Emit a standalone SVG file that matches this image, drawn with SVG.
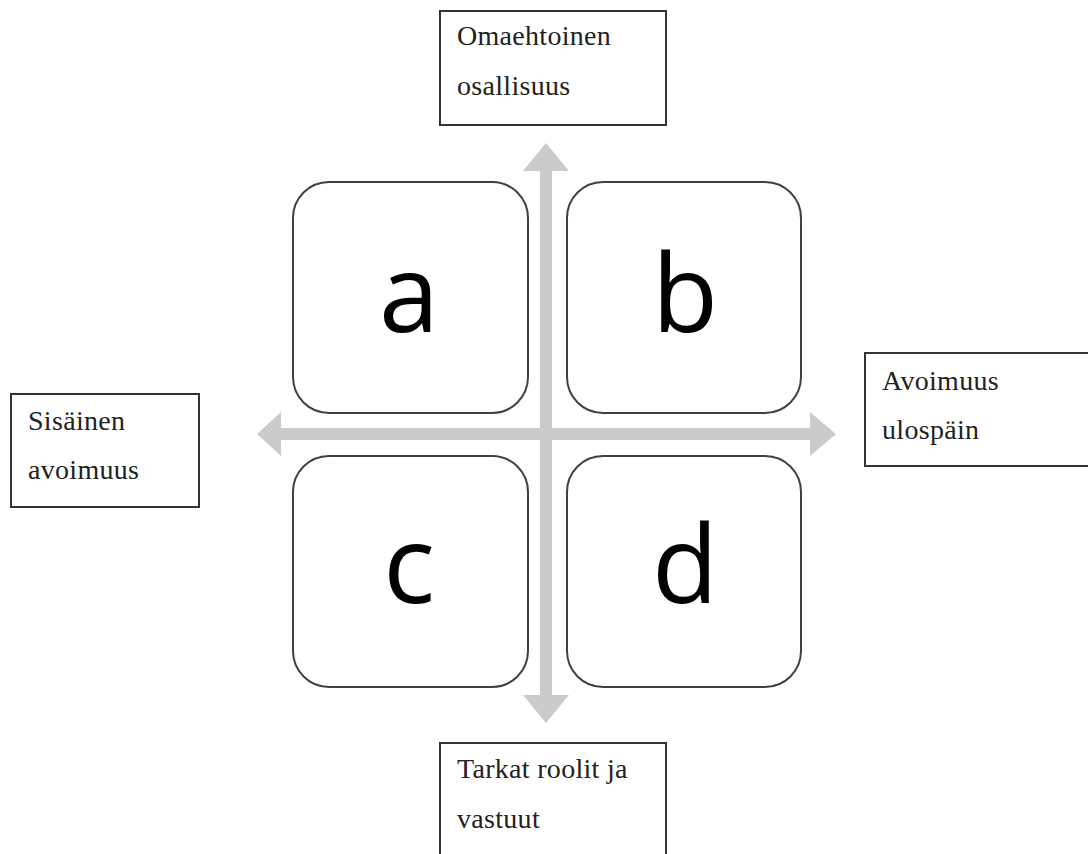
<svg xmlns="http://www.w3.org/2000/svg" width="1088" height="854" viewBox="0 0 1088 854">
<style>
.lbl{fill:#fff;stroke:#333;stroke-width:2}
.lt{font-family:"Liberation Serif",serif;font-size:28px;letter-spacing:0.3px;fill:#222}
.q{fill:#fff;stroke:#404040;stroke-width:2}
.qt{font-family:"Open Sans","Liberation Sans",sans-serif;font-size:108px;fill:#000;text-anchor:middle}
.ar{fill:#cbcbcb}
</style>
<rect width="1088" height="854" fill="#fff"/>
<g id="connectors">
<polygon class="ar" points="257,434 281,412 281,428 810,428 810,412 836,434 810,456 810,440 281,440 281,456"/>
<polygon class="ar" points="546,143 569,171 552,171 552,695 569,695 546,723 523,695 540,695 540,171 523,171"/>
</g>
<g id="node-a"><rect class="q" x="293" y="182" width="235" height="231" rx="36"/><text class="qt" x="409" y="332">a</text></g>
<g id="node-b"><rect class="q" x="567" y="182" width="234" height="231" rx="36"/><text class="qt" x="685" y="332">b</text></g>
<g id="node-c"><rect class="q" x="293" y="456" width="235" height="231" rx="36"/><text class="qt" x="409" y="603">c</text></g>
<g id="node-d"><rect class="q" x="567" y="456" width="234" height="231" rx="36"/><text class="qt" x="685" y="603">d</text></g>
<g id="label-top"><rect class="lbl" x="440" y="11" width="226" height="114"/><text class="lt" x="457" y="45">Omaehtoinen</text><text class="lt" x="457" y="95">osallisuus</text></g>
<g id="label-bottom"><rect class="lbl" x="440" y="743" width="226" height="120"/><text class="lt" x="457" y="778">Tarkat roolit ja</text><text class="lt" x="457" y="828">vastuut</text></g>
<g id="label-left"><rect class="lbl" x="11" y="394" width="188" height="113"/><text class="lt" x="28" y="430">Sisäinen</text><text class="lt" x="28" y="479">avoimuus</text></g>
<g id="label-right"><rect class="lbl" x="865" y="353" width="230" height="113"/><text class="lt" x="882" y="390">Avoimuus</text><text class="lt" x="882" y="439">ulospäin</text></g>
</svg>
